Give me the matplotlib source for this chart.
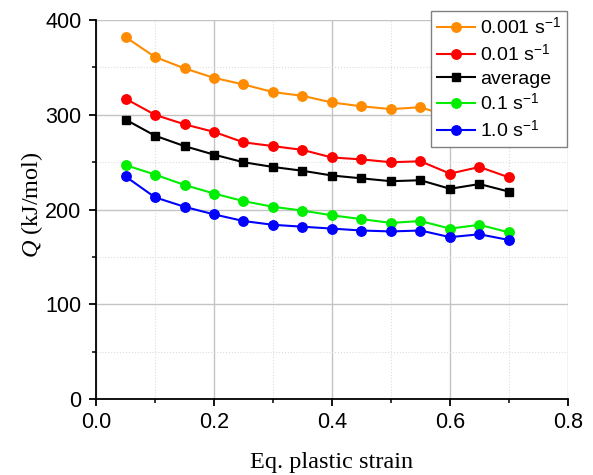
import matplotlib.pyplot as plt
from matplotlib.ticker import MultipleLocator

strain = [0.05, 0.10, 0.15, 0.20, 0.25, 0.30, 0.35, 0.40, 0.45, 0.50, 0.55, 0.60, 0.65, 0.70]

q_0001 = [382, 361, 349, 339, 332, 324, 320, 313, 309, 306, 308, 298, 304, 297]
q_001 = [317, 300, 290, 282, 271, 267, 263, 255, 253, 250, 251, 238, 245, 234]
q_avg = [295, 278, 267, 258, 250, 245, 241, 236, 233, 230, 231, 222, 227, 219]
q_01 = [247, 237, 226, 217, 209, 203, 199, 194, 190, 186, 188, 180, 184, 176]
q_10 = [235, 213, 203, 195, 188, 184, 182, 180, 178, 177, 178, 171, 174, 168]

labels = ["0.001 s$^{-1}$", "0.01 s$^{-1}$", "average", "0.1 s$^{-1}$", "1.0 s$^{-1}$"]
colors = ["#ff8c00", "#ff0000", "#000000", "#00ee00", "#0000ff"]
markers = ["o", "o", "s", "o", "o"]

plt.rcParams["font.family"] = ["Liberation Sans", "DejaVu Sans"]
plt.rcParams["mathtext.fontset"] = "custom"
plt.rcParams["mathtext.rm"] = "Liberation Sans"
plt.rcParams["mathtext.it"] = "Liberation Serif:italic"

fig = plt.figure(figsize=(5.93, 4.75), dpi=100)
ax = fig.add_axes([0.1619, 0.1594, 0.7959, 0.7985])

for y, lab, c, m in zip([q_0001, q_001, q_avg, q_01, q_10], labels, colors, markers):
    ax.plot(strain, y, color=c, marker=m, markersize=6.8 if m == "o" else 6.2,
            linewidth=1.5, label=lab, zorder=3)

ax.set_xlim(0, 0.8)
ax.set_ylim(0, 400)
ax.xaxis.set_major_locator(MultipleLocator(0.2))
ax.xaxis.set_minor_locator(MultipleLocator(0.1))
ax.yaxis.set_major_locator(MultipleLocator(100))
ax.yaxis.set_minor_locator(MultipleLocator(50))
ax.set_xticks([0.0, 0.2, 0.4, 0.6, 0.8])
ax.set_xticklabels(["0.0", "0.2", "0.4", "0.6", "0.8"])

ax.grid(which="major", color="#c4c4c4", linewidth=1.0, linestyle="-", zorder=0)
ax.grid(which="minor", color="#dcdcdc", linewidth=0.8, linestyle=":", zorder=0)
ax.set_axisbelow(True)

for s in ["top", "right"]:
    ax.spines[s].set_visible(False)
for s in ["left", "bottom"]:
    ax.spines[s].set_linewidth(1.3)

ax.tick_params(which="major", direction="out", length=5, width=1.3, labelsize=15.5)
ax.tick_params(axis="y", which="major", pad=5.5)
ax.tick_params(axis="x", which="major", pad=4)
ax.tick_params(which="minor", direction="out", length=3, width=1.1)

ax.set_xlabel("Eq. plastic strain", family="Liberation Serif", fontsize=17.5, labelpad=14)
ax.set_ylabel("$\\mathit{Q}$ (kJ/mol)", family="Liberation Serif", fontsize=17.5)
ax.yaxis.set_label_coords(-0.108, 0.512)

# legend sits partly above the plot area, covering the tail of the orange curve
leg = ax.legend(loc="upper right", bbox_to_anchor=(0.956, 0.977),
                bbox_transform=fig.transFigure, fontsize=14, frameon=True,
                fancybox=False, framealpha=1, edgecolor="#808080", handlelength=1.95,
                borderpad=0.3, labelspacing=0.28, handletextpad=0.25, borderaxespad=0)
leg.get_frame().set_linewidth(1.0)
leg.set_zorder(5)

fig.savefig("out.png", dpi=100)
